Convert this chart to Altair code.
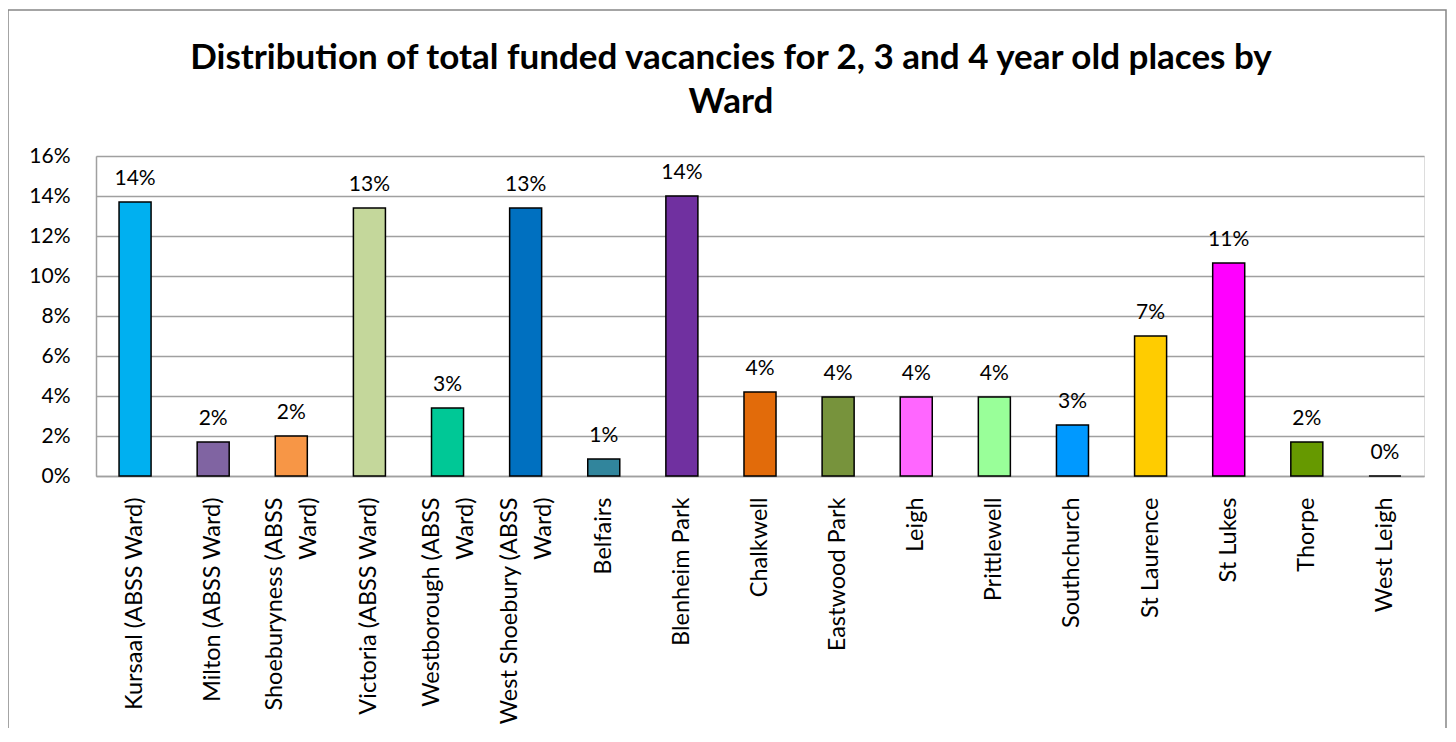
import altair as alt
import pandas as pd

wards = [
    "Kursaal (ABSS Ward)", "Milton (ABSS Ward)", "Shoeburyness (ABSS Ward)",
    "Victoria (ABSS Ward)", "Westborough (ABSS Ward)", "West Shoebury (ABSS Ward)",
    "Belfairs", "Blenheim Park", "Chalkwell", "Eastwood Park", "Leigh",
    "Prittlewell", "Southchurch", "St Laurence", "St Lukes", "Thorpe", "West Leigh",
]
shares = [0.137, 0.017, 0.020, 0.134, 0.034, 0.134, 0.0085, 0.140, 0.042,
          0.0395, 0.0395, 0.0395, 0.0255, 0.070, 0.1065, 0.017, 0.0]
colors = ["#00B0F0", "#8064A2", "#F79646", "#C4D79B", "#00C896", "#0070C0",
          "#31859C", "#7030A0", "#E26B0A", "#77933C", "#FF66FF", "#99FF99",
          "#0099FF", "#FFCC00", "#FF00FF", "#669900", "#A6A6A6"]
y_ticks = [0, 0.02, 0.04, 0.06, 0.08, 0.10, 0.12, 0.14, 0.16]

df = pd.DataFrame({"ward": wards, "share": shares, "color": colors})

FONT = "Lato"
W, H = 1328, 320

x_scale = alt.Scale(paddingInner=0.59, paddingOuter=0.295)
y_scale = alt.Scale(domain=[0, 0.16], nice=False, zero=True)

x_axis = alt.Axis(
    labelAngle=270, labelAlign="right", labelBaseline="middle",
    labelFont=FONT, labelFontSize=23.5, labelColor="#000000",
    labelLineHeight=34, labelPadding=21, ticks=False,
    domainColor="#A0A0A0", domainWidth=1.5, labelLimit=400,
    labelOverlap=False,
    labelOffset={"condition": {"test": "length(datum.value) > 21", "value": -16}, "value": 0},
    labelExpr="length(datum.label) > 21 ? [replace(datum.label, ' Ward)', ''), 'Ward)'] : datum.label",
)
y_axis = alt.Axis(
    values=y_ticks, format=".0%", labelFont=FONT, labelFontSize=21,
    labelColor="#000000", labelPadding=26, ticks=False, labelOverlap=False,
    domainColor="#A0A0A0", domainWidth=1.5,
    grid=True, gridColor="#A0A0A0", gridWidth=1.5,
)

x_enc = alt.X("ward:N", sort=wards, title=None, scale=x_scale, axis=x_axis)
y_enc = alt.Y("share:Q", title=None, scale=y_scale, axis=y_axis)

bars = alt.Chart(df).mark_bar(stroke="#000000", strokeWidth=1.5).encode(
    x=x_enc, y=y_enc,
    color=alt.Color("color:N", scale=None),
)

labels = alt.Chart(df).mark_text(
    font=FONT, fontSize=21, color="#000000", baseline="alphabetic", dy=-17
).encode(
    x=x_enc, y=y_enc,
    text=alt.Text("share:Q", format=".0%"),
)

frame = alt.Chart(pd.DataFrame({"a": [0]})).mark_rect(
    fill=None, stroke="#868686", strokeWidth=1.5
).encode(
    x=alt.value(-88), x2=alt.value(1350), y=alt.value(-146), y2=alt.value(640)
)

chart = alt.layer(bars, labels, frame).properties(
    width=W, height=H,
    autosize=alt.AutoSizeParams(type="none"),
    padding={"left": 88, "top": 148, "right": 24, "bottom": 252},
    title=alt.TitleParams(
        text=["Distribution of total funded vacancies for 2, 3 and 4 year old places by", "Ward"],
        font=FONT, fontSize=35, fontWeight="bold", color="#000000",
        anchor="middle", dx=-29, lineHeight=44, offset=-111,
    ),
).configure_view(strokeWidth=0).configure(background="#FFFFFF")

chart.save("out.html", embed_options={"renderer": "svg", "actions": False})
